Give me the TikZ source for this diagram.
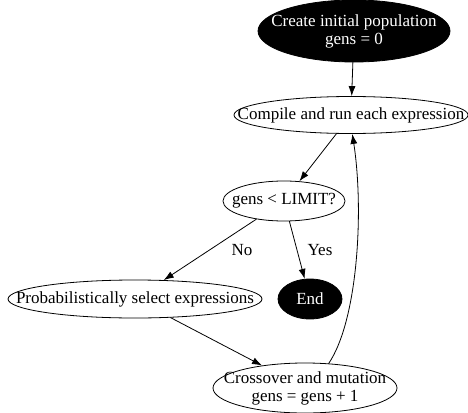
\documentclass[tikz,border=0pt]{standalone}
\usepackage{fontspec}
\setmainfont{Liberation Serif}
\usetikzlibrary{arrows.meta,shapes.geometric}
\tikzset{
  blk/.style={ellipse,draw,fill=black,inner sep=0pt},
  wht/.style={ellipse,draw,fill=white,inner sep=0pt},
}
\begin{document}
\begin{tikzpicture}[x=1pt,y=-1pt,line cap=round,line width=0.8pt,>={Latex[length=10pt,width=7pt]},font=\fontsize{17}{18}\selectfont]
	\useasboundingbox (0,0) rectangle (468,412);
	\node[blk,minimum width=192,minimum height=62,label={[text=white,align=center]center:Create initial population\\gens = 0}] (init) at (354,31) {};
	\node[wht,minimum width=234,minimum height=37,label={center:Compile and run each expression}] (comp) at (351,115) {};
	\node[wht,minimum width=122,minimum height=40,label={center:gens < LIMIT?}] (test) at (284,201) {};
	\node[wht,minimum width=254,minimum height=38,label={center:Probabilistically select expressions}] (sel) at (135,299) {};
	\node[blk,minimum width=64,minimum height=40,label={[text=white]center:End}] (end) at (310,299) {};
	\node[wht,minimum width=184,minimum height=50,label={[align=center]center:Crossover and mutation\\gens = gens + 1}] (cross) at (305,388) {};
	\draw[->] (init) -- (comp);
	\draw[->] (comp) -- (test);
	\draw[->] (test) -- node[midway,xshift=32pt] {No} (sel);
	\draw[->] (test) -- node[midway,xshift=23pt] {Yes} (end);
	\draw[->] (sel) -- (cross);
	\draw[->] (cross.46) .. controls (358,320) and (364,210) .. (comp.-86);
\end{tikzpicture}
\end{document}
